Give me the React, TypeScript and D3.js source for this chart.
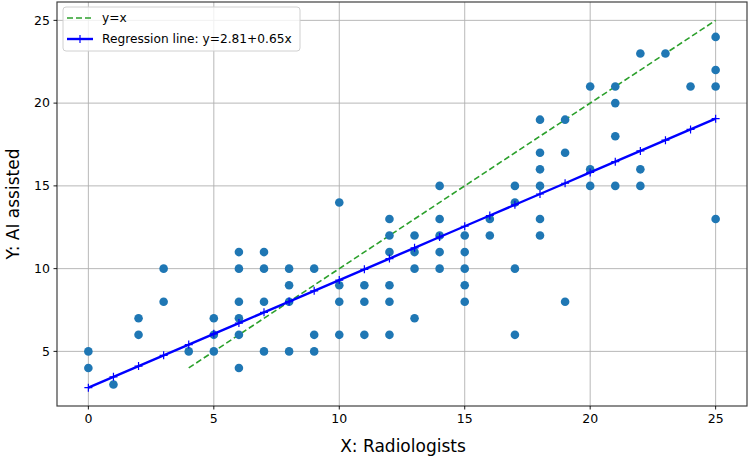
import { useMemo } from "react";
import * as d3 from "d3";

const WIDTH = 749;
const HEIGHT = 464;
const MARGIN = { top: 2, right: 2, bottom: 58, left: 57 };

// scatter data: radiologists (x) vs AI assisted (y)
const xValues = [
  0, 0, 1, 2, 2, 3, 3, 4, 5, 5, 5,
  6, 6, 6, 6, 6, 6, 7, 7, 7, 7,
  8, 8, 8, 8, 9, 9, 9, 10, 10, 10, 10,
  11, 11, 11, 12, 12, 12, 12, 12, 12,
  13, 13, 13, 13, 14, 14, 14, 14, 14,
  15, 15, 15, 15, 15, 16, 16, 17, 17, 17, 17,
  18, 18, 18, 18, 18, 18, 19, 19, 19,
  20, 20, 20, 21, 21, 21, 21, 22, 22, 22, 23, 24,
  25, 25, 25, 25,
];
const yValues = [
  5, 4, 3, 7, 6, 10, 8, 5, 7, 6, 5,
  11, 10, 8, 7, 6, 4, 11, 10, 8, 5,
  10, 9, 8, 5, 10, 6, 5, 14, 9, 8, 6,
  9, 8, 6, 13, 12, 11, 9, 8, 6,
  12, 11, 10, 7, 15, 13, 12, 11, 10,
  12, 11, 10, 9, 8, 13, 12, 15, 14, 10, 6,
  19, 17, 16, 15, 13, 12, 19, 17, 8,
  21, 16, 15, 21, 20, 18, 15, 23, 16, 15, 23, 21,
  24, 22, 21, 13,
];

const INTERCEPT = 2.81;
const SLOPE = 0.65;
const xTicks = [0, 5, 10, 15, 20, 25];
const yTicks = [5, 10, 15, 20, 25];
const identityRange = [4, 25];

const FONT = "DejaVu Sans, sans-serif";

export default function App() {
  const boundsWidth = WIDTH - MARGIN.left - MARGIN.right;
  const boundsHeight = HEIGHT - MARGIN.top - MARGIN.bottom;

  const xScale = useMemo(
    () => d3.scaleLinear().domain([-1.25, 26.25]).range([0, boundsWidth]),
    [boundsWidth]
  );
  const yScale = useMemo(
    () => d3.scaleLinear().domain([1.7, 26.11]).range([boundsHeight, 0]),
    [boundsHeight]
  );

  // regression line evaluated at each unique x
  const uniqueX = Array.from(new Set(xValues)).sort((a, b) => a - b);
  const regPoints = uniqueX.map((x) => [x, INTERCEPT + SLOPE * x] as [number, number]);
  const line = d3
    .line<[number, number]>()
    .x((d) => xScale(d[0]))
    .y((d) => yScale(d[1]));

  const identity = identityRange.map((v) => [v, v] as [number, number]);

  const grid = (
    <g>
      {xTicks.map((t) => (
        <line key={"gx" + t} x1={xScale(t)} x2={xScale(t)} y1={0} y2={boundsHeight} stroke="#b0b0b0" strokeWidth={0.9} />
      ))}
      {yTicks.map((t) => (
        <line key={"gy" + t} x1={0} x2={boundsWidth} y1={yScale(t)} y2={yScale(t)} stroke="#b0b0b0" strokeWidth={0.9} />
      ))}
    </g>
  );

  const axes = (
    <g fontFamily={FONT} fontSize={12.5} fill="#000">
      {xTicks.map((t) => (
        <g key={"tx" + t} transform={`translate(${xScale(t)},${boundsHeight})`}>
          <line y1={0} y2={3.5} stroke="#000" strokeWidth={0.9} />
          <text y={17} textAnchor="middle">{t}</text>
        </g>
      ))}
      {yTicks.map((t) => (
        <g key={"ty" + t} transform={`translate(0,${yScale(t)})`}>
          <line x1={0} x2={-3.5} stroke="#000" strokeWidth={0.9} />
          <text x={-7} dy="0.35em" textAnchor="end">{t}</text>
        </g>
      ))}
    </g>
  );

  const markerPath = (x: number, y: number) =>
    `M${x - 4},${y}H${x + 4}M${x},${y - 4}V${y + 4}`;

  return (
    <div style={{ position: "absolute", left: 0, top: 0 }}>
      <svg width={WIDTH} height={HEIGHT} style={{ display: "block" }}>
        <rect width={WIDTH} height={HEIGHT} fill="#fff" />
        <g transform={`translate(${MARGIN.left},${MARGIN.top})`}>
          {grid}
          <path d={line(identity) ?? ""} fill="none" stroke="#2ca02c" strokeWidth={1.6} strokeDasharray="6,3" />
          {xValues.map((x, i) => (
            <circle key={i} cx={xScale(x)} cy={yScale(yValues[i])} r={4.3} fill="#1f77b4" />
          ))}
          <path d={line(regPoints) ?? ""} fill="none" stroke="#0000ff" strokeWidth={2.4} />
          <path
            d={regPoints.map((p) => markerPath(xScale(p[0]), yScale(p[1]))).join("")}
            stroke="#0000ff"
            strokeWidth={1.2}
          />
          <rect x={0} y={0} width={boundsWidth} height={boundsHeight} fill="none" stroke="#404040" strokeWidth={1.2} />
          {axes}

          {/* legend */}
          <g fontFamily={FONT} fontSize={12.2}>
            <rect x={6} y={5} width={237} height={44} rx={3} fill="#fff" fillOpacity={0.8} stroke="#d0d0d0" />
            <line x1={10} x2={36} y1={16} y2={16} stroke="#2ca02c" strokeWidth={1.6} strokeDasharray="6,3" />
            <text x={45} y={16} dy="0.35em">y=x</text>
            <line x1={10} x2={36} y1={37} y2={37} stroke="#0000ff" strokeWidth={2.4} />
            <path d={markerPath(23, 37)} stroke="#0000ff" strokeWidth={1.2} />
            <text x={45} y={37} dy="0.35em">Regression line: y=2.81+0.65x</text>
          </g>

          <text
            x={boundsWidth / 2 + 1}
            y={boundsHeight + 46}
            textAnchor="middle"
            fontFamily={FONT}
            fontSize={17}
          >
            X: Radiologists
          </text>
          <text
            transform={`translate(${-MARGIN.left + 19},${boundsHeight / 2}) rotate(-90)`}
            textAnchor="middle"
            fontFamily={FONT}
            fontSize={17}
          >
            Y: AI assisted
          </text>
        </g>
      </svg>
    </div>
  );
}
